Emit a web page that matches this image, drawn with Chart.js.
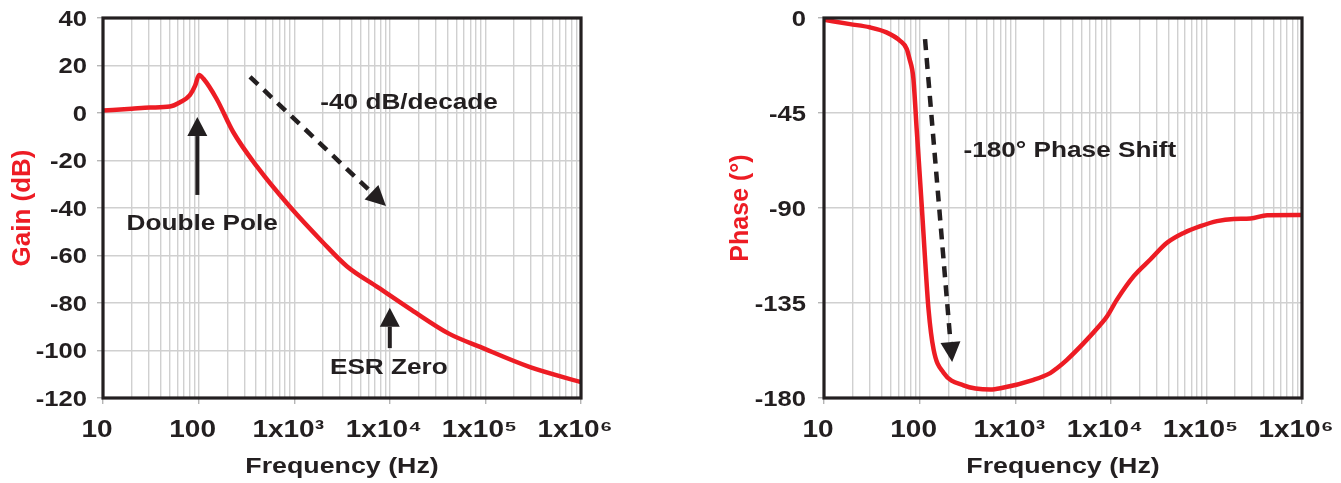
<!DOCTYPE html>
<html><head><meta charset="utf-8">
<script src="https://cdn.jsdelivr.net/npm/chart.js@4.4.0/dist/chart.umd.min.js"></script>
<style>
html,body{margin:0;padding:0;background:#fff;}
#wrap{position:relative;width:1341px;height:483px;overflow:hidden;background:#fff;}
.box{position:absolute;top:0;height:483px;}
</style></head><body>
<div id="wrap">
<div class="box" style="left:0;width:670px"><canvas id="gain" width="670" height="483"></canvas></div>
<div class="box" style="left:670px;width:671px"><canvas id="phase" width="671" height="483"></canvas></div>
</div>
<script>
// ---- data ----
const gainFreq = [10, 20, 31, 50, 64, 81, 92, 101, 112, 154, 230, 407, 903, 2000, 3550, 7600, 17000, 42000, 88000, 293000, 1000000];
const gainDb   = [1.0, 1.8, 2.3, 2.7, 4.5, 7.5, 11.5, 16, 14.5, 6, -8, -22.5, -39.5, -54.5, -64.5, -73.5, -83, -93, -98.5, -107, -113.3];
const phaseFreq = [10, 18.7, 30, 45, 62.5, 73.5, 78, 86, 93, 105, 114, 124, 140, 178, 288, 550, 700, 1556, 2323, 2733, 3476, 5200, 7770, 9120, 11600, 17300, 25900, 38700, 57900, 86500, 129000, 193000, 289000, 432000, 1000000];
const phaseDeg  = [-0.8, -2.9, -4.4, -6.8, -10.8, -14.7, -19, -28.5, -52, -88, -114, -138, -157, -168, -174, -176, -175.4, -171.4, -168.2, -165.9, -161.9, -154, -145.3, -141.4, -133.4, -122.4, -114.4, -106.5, -101.8, -98.6, -96.2, -95.2, -95, -93.4, -93.3];
const freqTicks = [10, 100, 1000, 10000, 100000, 1000000];
const freqTickLabels = ['10', '100', '1x10³', '1x10⁴', '1x10⁵', '1x10⁶'];
const gainTickValues = [40, 20, 0, -20, -40, -60, -80, -100, -120];
const phaseTickValues = [0, -45, -90, -135, -180];

const gainNotes = [
  {text: 'Double Pole', f: 109, v: -46.8},
  {text: '-40 dB/decade', f: 15900, v: 4.3},
  {text: 'ESR Zero', f: 9770, v: -107.4}
];
const gainArrows = [
  {from: [97, -34.5], to: [97, -1.7], dashed: false},
  {from: [10000, -99], to: [10000, -82], dashed: false},
  {from: [345, 15.2], to: [9120, -39.2], dashed: true}
];
const phaseNotes = [
  {text: '-180° Phase Shift', f: 3725, v: -63.2}
];
const phaseArrows = [
  {from: [114, -10], to: [219, -163], dashed: true}
];

// ---- styling ----
const FONT = '"Liberation Sans", Arial, Helvetica, sans-serif';
const INK = '#231f20';
const RED = '#ed1c24';
const GRID = '#d0d0d0';
const TEXT_SX = 1.19; // horizontal widening of the bold type, as in the reference

function widenText(canvas) {
  const ctx = canvas.getContext('2d');
  const orig = ctx.fillText.bind(ctx);
  ctx.fillText = function (text, x, y, maxWidth) {
    const m = this.getTransform();
    if (Math.abs(m.b) > 1e-6 || Math.abs(m.c) > 1e-6) { orig(text, x, y); return; }
    this.save();
    this.translate(x, y);
    this.scale(TEXT_SX, 1);
    orig(text, 0, 0);
    this.restore();
  };
}

function logTickValues(min, max) {
  const out = [];
  for (let e = Math.round(Math.log10(min)); Math.pow(10, e) <= max; e++) {
    for (let s = 1; s <= 9; s++) {
      const v = s * Math.pow(10, e);
      if (v >= min && v <= max) out.push(v);
    }
  }
  return out;
}
function isMajor(v) { return freqTicks.some(t => Math.abs(t - v) < 1e-6 * t); }

function drawArrow(ctx, x1, y1, x2, y2, dashed) {
  const ang = Math.atan2(y2 - y1, x2 - x1);
  const headLen = dashed ? 20 : 19, headW = 10;
  const bx = x2 - headLen * Math.cos(ang), by = y2 - headLen * Math.sin(ang);
  ctx.save();
  ctx.strokeStyle = INK; ctx.fillStyle = INK;
  ctx.lineWidth = dashed ? 4.5 : 4;
  ctx.lineCap = 'butt';
  if (dashed) ctx.setLineDash([11, 8]);
  ctx.beginPath(); ctx.moveTo(x1, y1); ctx.lineTo(bx, by); ctx.stroke();
  ctx.setLineDash([]);
  ctx.beginPath(); ctx.moveTo(x2, y2);
  ctx.lineTo(bx + headW * Math.sin(ang), by - headW * Math.cos(ang));
  ctx.lineTo(bx - headW * Math.sin(ang), by + headW * Math.cos(ang));
  ctx.closePath(); ctx.fill();
  ctx.restore();
}

const annotPlugin = {
  id: 'annot',
  afterDatasetsDraw(chart, args, opts) {
    const ctx = chart.ctx, xs = chart.scales.x, ys = chart.scales.y;
    (opts.arrows || []).forEach(a => {
      drawArrow(ctx, xs.getPixelForValue(a.from[0]), ys.getPixelForValue(a.from[1]),
                xs.getPixelForValue(a.to[0]), ys.getPixelForValue(a.to[1]), a.dashed);
    });
    ctx.save();
    ctx.fillStyle = INK;
    ctx.font = 'bold ' + opts.fontSize + 'px ' + FONT;
    ctx.textAlign = 'center'; ctx.textBaseline = 'middle';
    (opts.notes || []).forEach(n => {
      ctx.fillText(n.text, xs.getPixelForValue(n.f), ys.getPixelForValue(n.v));
    });
    ctx.restore();
  },
  afterDraw(chart) {
    const ctx = chart.ctx, a = chart.chartArea;
    ctx.save();
    ctx.strokeStyle = INK; ctx.lineWidth = 3.2;
    ctx.strokeRect(a.left, a.top, a.right - a.left, a.bottom - a.top);
    ctx.restore();
  }
};

function makeChart(id, cfg) {
  const canvas = document.getElementById(id);
  widenText(canvas);
  const xs = cfg.xData, ys = cfg.yData;
  return new Chart(canvas, {
    type: 'line',
    data: {
      datasets: [{
        data: xs.map((f, i) => ({x: f, y: ys[i]})),
        borderColor: RED, borderWidth: 4.5, pointRadius: 0,
        cubicInterpolationMode: 'monotone', fill: false
      }]
    },
    options: {
      responsive: false, animation: false, devicePixelRatio: 1,
      layout: {padding: cfg.padding},
      plugins: {legend: {display: false}, tooltip: {enabled: false},
                annot: {notes: cfg.notes, arrows: cfg.arrows, fontSize: 22}},
      scales: {
        x: {
          type: 'logarithmic', min: 10, max: 1000000,
          afterBuildTicks(s) { s.ticks = logTickValues(10, 1000000).map(v => ({value: v, major: isMajor(v)})); },
          afterFit(s) { s.height = 85; s.paddingLeft = 0; s.paddingRight = 0; },
          border: {display: false},
          grid: {color: GRID, lineWidth: 1.4, drawTicks: true, tickLength: 6,
                 tickColor: c => (c.tick && isMajor(c.tick.value)) ? '#b5b5b5' : 'rgba(0,0,0,0)'},
          ticks: {
            autoSkip: false, maxRotation: 0, padding: 12, labelOffset: -6,
            color: INK, font: {family: FONT, size: 23.5, weight: 'bold'},
            callback: v => { const i = freqTicks.findIndex(t => Math.abs(t - v) < 1e-6 * t); return i >= 0 ? freqTickLabels[i] : ''; }
          },
          title: {display: true, text: 'Frequency (Hz)', color: INK,
                  font: {family: FONT, size: 22.5, weight: 'bold'}, padding: {top: 0, bottom: 3}}
        },
        y: {
          min: cfg.yMin, max: cfg.yMax,
          afterBuildTicks(s) { s.ticks = cfg.yTicks.map(v => ({value: v})); },
          afterFit(s) { s.width = cfg.yWidth; s.paddingTop = 0; s.paddingBottom = 0; },
          border: {display: false},
          grid: {color: GRID, lineWidth: 1.4, tickLength: 6, tickColor: '#b5b5b5'},
          ticks: {padding: cfg.yTickPad, labelOffset: 2, color: INK, font: {family: FONT, size: 21.5, weight: 'bold'}},
          title: {display: true, text: cfg.yTitle, color: RED,
                  font: {family: FONT, size: cfg.yTitleSize, weight: 'bold'}, padding: {top: cfg.yTitlePad, bottom: 0}}
        }
      }
    },
    plugins: [annotPlugin]
  });
}

makeChart('gain', {
  xData: gainFreq, yData: gainDb, yMin: -120, yMax: 40, yTicks: gainTickValues,
  yWidth: 103, yTickPad: 10, yTitle: 'Gain (dB)', yTitlePad: 7, yTitleSize: 26,
  padding: {left: 0, top: 18, right: 89, bottom: 0},
  notes: gainNotes, arrows: gainArrows
});
makeChart('phase', {
  xData: phaseFreq, yData: phaseDeg, yMin: -180, yMax: 0, yTicks: phaseTickValues,
  yWidth: 154, yTickPad: 12, yTitle: 'Phase (°)', yTitlePad: 56, yTitleSize: 25,
  padding: {left: 0, top: 18, right: 39, bottom: 0},
  notes: phaseNotes, arrows: phaseArrows
});
</script>
</body></html>
